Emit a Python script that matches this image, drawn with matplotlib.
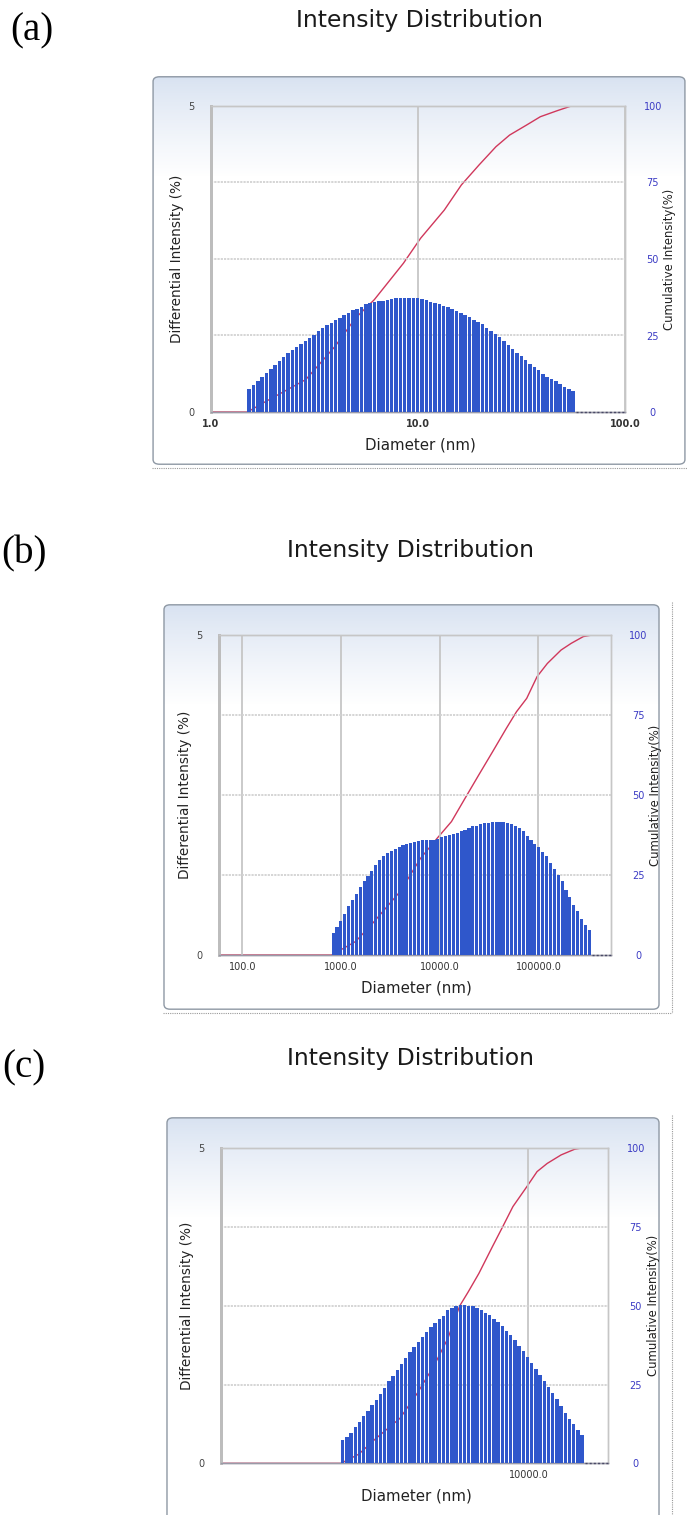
import numpy as np
import matplotlib
matplotlib.use("Agg")
import matplotlib.pyplot as plt
from matplotlib.patches import FancyBboxPatch
from matplotlib.ticker import FixedLocator, FixedFormatter, NullFormatter, NullLocator

W, H = 687, 1515

# ---------------- data ----------------
panel_labels = ["(a)", "(b)", "(c)"]
title_text = "Intensity Distribution"
x_label = "Diameter (nm)"
y_label_left = "Differential Intensity (%)"
y_label_right = "Cumulative Intensity(%)"
left_ticks = [0, 5]
right_ticks = [0, 25, 50, 75, 100]

# (a)
a_bin_range = [1.50, 57.8]
a_heights = [0.37, 0.44, 0.51, 0.57, 0.64, 0.71, 0.77, 0.83, 0.90, 0.96,
             1.01, 1.06, 1.11, 1.16, 1.21, 1.26, 1.32, 1.37, 1.42, 1.46,
             1.50, 1.54, 1.58, 1.62, 1.66, 1.69, 1.72, 1.76, 1.78, 1.80,
             1.81, 1.82, 1.83, 1.85, 1.86, 1.87, 1.87, 1.87, 1.86, 1.86,
             1.85, 1.83, 1.80, 1.78, 1.76, 1.73, 1.71, 1.68, 1.65, 1.62,
             1.58, 1.55, 1.51, 1.47, 1.43, 1.37, 1.32, 1.27, 1.22, 1.16,
             1.10, 1.03, 0.97, 0.91, 0.85, 0.79, 0.73, 0.68, 0.62, 0.58,
             0.54, 0.50, 0.46, 0.41, 0.37, 0.34]
a_cum_d = [1.0, 1.50, 1.78, 2.87, 3.97, 4.99, 6.15, 8.50, 10.3, 13.4, 16.2,
           19.7, 23.8, 27.7, 33.5, 39.0, 47.2, 55.0, 100.0]
a_cum = [0, 0, 2.9, 10.6, 21.4, 30.7, 36.7, 48.6, 56.8, 66.0, 74.2,
         80.7, 86.7, 90.5, 93.8, 96.5, 98.5, 100, 100]
a_xlim = [1.0, 100.0]
a_xticks = [1.0, 10.0, 100.0]
a_xticklabels = ["1.0", "10.0", "100.0"]
a_extra_grid = []

# (b)
b_bin_range = [802, 345000]
b_heights = [0.34, 0.44, 0.53, 0.64, 0.76, 0.86, 0.95, 1.06, 1.15, 1.23,
             1.32, 1.41, 1.48, 1.54, 1.59, 1.63, 1.66, 1.68, 1.72, 1.74,
             1.75, 1.77, 1.78, 1.79, 1.79, 1.80, 1.80, 1.82, 1.85, 1.86,
             1.88, 1.89, 1.90,
             1.93, 1.95, 1.98, 2.01, 2.02, 2.04, 2.06, 2.07, 2.08, 2.08,
             2.08, 2.08, 2.07, 2.05, 2.02, 1.98, 1.93, 1.86, 1.80, 1.74,
             1.69, 1.61, 1.54, 1.43, 1.35, 1.25, 1.15, 1.02, 0.91, 0.78,
             0.68, 0.57, 0.47, 0.39]
b_cum_d = [57.4, 802, 1403, 2089, 3963, 6383, 9550, 13150, 18070, 24890,
           34280, 47210, 59840, 76030, 96830, 123000, 169400, 214800,
           284400, 347500, 538000]
b_cum = [0, 0, 4.2, 9.9, 19.8, 30.2, 36.7, 41.7, 49.0, 56.3,
         63.5, 70.8, 76.0, 80.2, 87.0, 91.1, 95.3, 97.4,
         99.5, 100, 100]
b_xlim = [57.4, 538000]
b_xticks = [100.0, 1000.0, 10000.0, 100000.0]
b_xticklabels = ["100.0", "1000.0", "10000.0", "100000.0"]
b_extra_grid = [169000]

# (c)
c_bin_range = [2704, 14800]
c_heights = [0.37, 0.42, 0.48, 0.58, 0.66, 0.75, 0.83, 0.92, 1.01, 1.10,
             1.19, 1.30, 1.39, 1.48, 1.57, 1.67, 1.77, 1.85, 1.93, 2.01,
             2.08, 2.16, 2.22, 2.29, 2.34, 2.43, 2.46, 2.49, 2.51, 2.51,
             2.50, 2.49, 2.46, 2.43, 2.39, 2.35, 2.29, 2.25, 2.18, 2.10,
             2.04, 1.96, 1.86, 1.79, 1.69, 1.60, 1.50, 1.40, 1.30, 1.21,
             1.11, 1.02, 0.91, 0.80, 0.71, 0.62, 0.53, 0.45]
c_cum_d = [1171, 2704, 3062, 3451, 4083, 4603, 5188, 5702, 6194, 6577, 7079,
           7780, 8356, 8974, 9886, 10620, 11400, 12560, 13800, 14320, 17420]
c_cum = [0, 0, 2.9, 7.9, 14.3, 22.2, 31.2, 39.7, 50.0, 54.5, 60.3,
         68.8, 75.1, 81.5, 87.8, 92.6, 95.2, 97.9, 99.7, 100, 100]
c_xlim = [1171, 17420]
c_xticks = [10000.0]
c_xticklabels = ["10000.0"]
c_extra_grid = []

# ---------------- layout (pixels) ----------------
layout = [
    dict(ax=(211, 106, 625, 412), box=(152, 76, 686, 465), title=(420, 20),
         label=(10, 31), label_ha="left", tick_weight="bold"),
    dict(ax=(218.5, 635, 610.6, 955), box=(163, 604, 660, 1010), title=(411, 551),
         label=(1, 554), label_ha="left", tick_weight="normal"),
    dict(ax=(221, 1148.3, 608, 1463.3), box=(166, 1117, 660, 1540), title=(411, 1058),
         label=(2, 1068), label_ha="left", tick_weight="normal"),
]

BAR_COLOR = "#2f57cb"
LINE_COLOR = "#d0385c"
RIGHT_TICK_COLOR = "#3b3bc4"
FONT = "DejaVu Sans"

fig = plt.figure(figsize=(W / 100, H / 100), dpi=100)
renderer = fig.canvas.get_renderer()


def add_axes_px(l, t, r, b):
    return fig.add_axes([l / W, 1 - b / H, (r - l) / W, (b - t) / H])


def ftext(x, y, s, **kw):
    return fig.text(x / W, 1 - y / H, s, **kw)


def fit(t, target, use_height=False):
    bb = t.get_window_extent(renderer)
    cur = bb.height if use_height else bb.width
    t.set_fontsize(t.get_fontsize() * target / cur)


panels = [
    (a_bin_range, a_heights, a_cum_d, a_cum, a_xlim, a_xticks, a_xticklabels, a_extra_grid),
    (b_bin_range, b_heights, b_cum_d, b_cum, b_xlim, b_xticks, b_xticklabels, b_extra_grid),
    (c_bin_range, c_heights, c_cum_d, c_cum, c_xlim, c_xticks, c_xticklabels, c_extra_grid),
]

for i, (bins, heights, cd, cv, xlim, xt, xtl, xg) in enumerate(panels):
    lay = layout[i]
    # ---- background box with gradient ----
    bl, bt, br, bb_ = lay["box"]
    bg = add_axes_px(bl, bt, br, bb_)
    bg.set_xlim(0, 1)
    bg.set_ylim(0, 1)
    bg.axis("off")
    hpx = int(bb_ - bt)
    yy = np.arange(hpx)
    tt = np.clip(yy / 100.0, 0, 1) ** 0.85
    top = np.array([0.845, 0.885, 0.945])
    grad = top[None, :] * (1 - tt[:, None]) + np.ones(3)[None, :] * tt[:, None]
    grad = grad[:, None, :]
    frame = FancyBboxPatch((0.002, 0.002), 0.996, 0.996,
                           boxstyle="round,pad=0,rounding_size=0.012",
                           transform=bg.transAxes, facecolor="none",
                           edgecolor="#8e98a4", linewidth=1.0, zorder=3)
    im = bg.imshow(grad, extent=[0, 1, 0, 1], aspect="auto", zorder=1)
    bg.set_xlim(0, 1)
    bg.set_ylim(0, 1)
    bg.add_patch(frame)
    im.set_clip_path(frame)

    # ---- main axes ----
    l, t, r, b = lay["ax"]
    ax = add_axes_px(l, t, r, b)
    ax2 = ax.twinx()
    ax.set_zorder(3)
    ax2.set_zorder(2)
    ax.patch.set_visible(False)
    ax2.patch.set_visible(False)

    edges = np.geomspace(bins[0], bins[1], len(heights) + 1)
    widths = edges[1:] - edges[:-1]
    ax.bar(edges[:-1], heights, width=widths * 0.80, align="edge",
           color=BAR_COLOR, linewidth=0, zorder=3)
    ax.plot([bins[1], xlim[1]], [0, 0], color="#4a4a66", lw=1.0,
            ls=(0, (1.5, 1.5)), zorder=4, clip_on=False)

    ax2.plot(cd, cv, color=LINE_COLOR, lw=1.0, zorder=2)

    for a_ in (ax, ax2):
        a_.set_xscale("log")
        a_.set_xlim(*xlim)
    ax.set_ylim(0, 5)
    ax2.set_ylim(0, 100)

    ax.xaxis.set_major_locator(FixedLocator(xt))
    ax.xaxis.set_major_formatter(FixedFormatter(xtl))
    ax.xaxis.set_minor_locator(FixedLocator(xg))
    ax.xaxis.set_minor_formatter(NullFormatter())
    ax.yaxis.set_major_locator(FixedLocator(left_ticks))
    ax.yaxis.set_minor_locator(FixedLocator([1.25, 2.5, 3.75]))
    ax.yaxis.set_minor_formatter(NullFormatter())
    ax2.yaxis.set_major_locator(FixedLocator(right_ticks))
    ax2.yaxis.set_minor_locator(NullLocator())
    ax2.xaxis.set_minor_locator(NullLocator())

    ax.set_axisbelow(True)
    ax.grid(True, axis="x", which="both", color="#c6c6c6", lw=1.3)
    ax.grid(True, axis="y", which="minor", color="#d2d2d2", lw=1.3, ls=(0, (1.2, 0.6)))

    ax.tick_params(axis="both", which="both", length=0)
    ax.tick_params(axis="x", pad=5, labelsize=7, labelcolor="#333333")
    ax.tick_params(axis="y", pad=14, labelsize=7, labelcolor="#444444")
    ax2.tick_params(axis="y", length=0, pad=20, labelsize=7, labelcolor=RIGHT_TICK_COLOR)
    for lab in ax2.get_yticklabels():
        lab.set_horizontalalignment("center")
    for lab in ax.get_yticklabels():
        lab.set_horizontalalignment("center")
    for lab in ax.get_xticklabels():
        lab.set_fontweight(lay["tick_weight"])

    for a_ in (ax, ax2):
        for side, sp in a_.spines.items():
            sp.set_color("#c6c6c6")
            sp.set_linewidth(1.0)
        a_.spines["left"].set_linewidth(2.0)
        a_.spines["left"].set_color("#bdbdbd")
        a_.spines["bottom"].set_color("#9a9aa8")

    # ---- texts ----
    tcx, tcy = lay["title"]
    tt_ = ftext(tcx, tcy, title_text, ha="center", va="center",
                family=FONT, fontsize=13, color="#1a1a1a")
    fit(tt_, 246)

    lx, ly = lay["label"]
    ftext(lx, ly, panel_labels[i], ha=lay["label_ha"], va="center",
          family="Liberation Serif", fontsize=28, color="black")

    xl = ftext((l + r) / 2 + 2, b + 33, x_label, ha="center", va="center",
               family=FONT, fontsize=10, color="#222222")
    fit(xl, 111)
    yl = ftext(l - 34, (t + b) / 2, y_label_left, ha="center", va="center",
               rotation=90, family=FONT, fontsize=9, color="#222222")
    fit(yl, 168, use_height=True)
    yr = ftext(r + 45, (t + b) / 2, y_label_right, ha="center", va="center",
               rotation=90, family=FONT, fontsize=8, color="#222222")
    fit(yr, 142, use_height=True)

# screenshot border artifacts
fig.add_artist(plt.Line2D([152 / W, 1], [1 - 468 / H, 1 - 468 / H],
                          color="#9a9a9a", lw=0.8, ls=(0, (1, 1))))
fig.add_artist(plt.Line2D([672 / W, 672 / W], [1 - 602 / H, 1 - 1012 / H],
                          color="#9a9a9a", lw=0.8, ls=(0, (1, 1))))
fig.add_artist(plt.Line2D([163 / W, 672 / W], [1 - 1013 / H, 1 - 1013 / H],
                          color="#9a9a9a", lw=0.8, ls=(0, (1, 1))))
fig.add_artist(plt.Line2D([672 / W, 672 / W], [1 - 1115 / H, 0],
                          color="#9a9a9a", lw=0.8, ls=(0, (1, 1))))

fig.savefig("out.png", dpi=100, facecolor="white")
